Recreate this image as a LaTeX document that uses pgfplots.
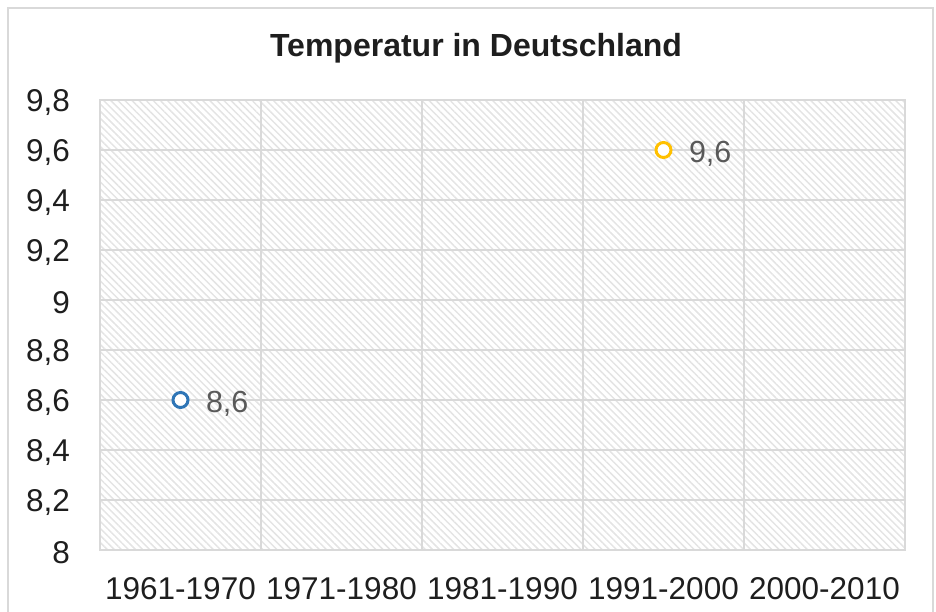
\documentclass[border=0pt]{standalone}
\usepackage{fontspec}
\setmainfont{Liberation Sans}
\usepackage{pgfplots}
\pgfplotsset{compat=1.18}
\usetikzlibrary{patterns.meta}
\definecolor{gridc}{RGB}{217,217,217}
\definecolor{hatch}{RGB}{228,228,228}
\definecolor{blueM}{RGB}{46,117,182}
\definecolor{yellowM}{RGB}{255,192,0}
\definecolor{lab}{RGB}{89,89,89}
\definecolor{tickc}{RGB}{30,30,30}
\begin{document}
\begin{tikzpicture}
\useasboundingbox (0,0) rectangle (936pt,612pt);
\begin{axis}[
  at={(100pt,62pt)}, anchor=south west,
  width=805pt, height=450pt, scale only axis,
  xmin=-0.5, xmax=4.5, ymin=8, ymax=9.8,
  xtick={0,1,2,3,4},
  xticklabels={1961-1970,1971-1980,1981-1990,1991-2000,2000-2010},
  minor xtick={0.5,1.5,2.5,3.5},
  ytick={8,8.2,8.4,8.6,8.8,9,9.2,9.4,9.6,9.8},
  ymajorgrids, xminorgrids,
  major tick length=0pt, minor tick length=0pt,
  axis line style={gridc, line width=1.5pt},
  grid style={gridc, line width=1.5pt},
  minor grid style={gridc, line width=1.5pt},
  tick style={draw=none},
  /pgf/number format/use comma,
  /pgf/number format/fixed,
  /pgf/number format/precision=1,
  /pgf/number format/assume math mode=true,
  ticklabel style={font=\fontsize{31.5}{36}\selectfont, text=tickc},
  x tick label style={inner sep=0pt, yshift=-27pt},
  y tick label style={inner sep=0pt, xshift=-30pt, yshift=-3pt},
  axis background/.style={pattern={Lines[angle=-45,distance=5pt,line width=1.5pt]}, pattern color=hatch},
  clip=false,
  nodes near coords,
  point meta=y,
  nodes near coords style={anchor=west, xshift=24pt, yshift=-4pt, inner sep=0pt, text=lab, font=\fontsize{30.5}{36}\selectfont},
]
\addplot[only marks, mark=*, mark size=7.5pt, mark options={draw=blueM, fill=white, line width=3pt}] coordinates {(0,8.6)};
\addplot[only marks, mark=*, mark size=7.5pt, mark options={draw=yellowM, fill=white, line width=3pt}] coordinates {(3,9.6)};
\end{axis}
\draw[gridc, line width=1.5pt] (8pt,-20pt) -- (8pt,604pt) -- (933pt,604pt) -- (933pt,-20pt);
\node[font=\fontsize{32}{36}\selectfont\bfseries, text=tickc, anchor=base] at (476pt,555pt) {Temperatur in Deutschland};
\end{tikzpicture}
\end{document}
